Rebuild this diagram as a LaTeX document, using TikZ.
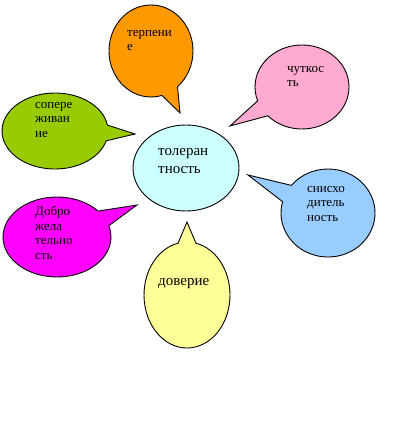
\documentclass[tikz,border=0pt]{standalone}
\usepackage{fontspec}
\setmainfont{Liberation Serif}
\usepackage{tikz}
\usetikzlibrary{shapes.geometric, shapes.callouts}
\definecolor{bblorange}{RGB}{255,153,0}
\definecolor{bblpink}{RGB}{255,170,208}
\definecolor{bblgreen}{RGB}{153,204,0}
\definecolor{bblcyan}{RGB}{204,255,255}
\definecolor{bblblue}{RGB}{153,204,255}
\definecolor{bblmagenta}{RGB}{255,0,255}
\definecolor{bblyellow}{RGB}{255,255,153}

\begin{document}
\begin{tikzpicture}[
  x=1pt, y=-1pt,
  bubble/.style={ellipse callout, draw=black, line width=0.9pt, inner sep=0pt,
                 callout pointer arc=24},
  core/.style={ellipse, draw=black, line width=0.9pt, inner sep=0pt},
  word/.style={font=\fontsize{13}{14.5}\selectfont, align=left, inner sep=0pt,
               anchor=north west},
  bigword/.style={font=\fontsize{15}{18}\selectfont, align=left, inner sep=0pt,
                  anchor=north west}
]
\useasboundingbox (0,0) rectangle (419,422);
\node[core, fill=bblcyan, minimum width=106pt, minimum height=86pt] (tol) at (186,168) {};
\node[bigword] (toltxt) at (158,148) {толеран\\тность};
\node[bubble, fill=bblorange, minimum width=84pt, minimum height=92pt,
      callout absolute pointer={(180,113)}] (terp) at (151,51) {};
\node[word] (terptxt) at (127,30) {терпени\\е};
\node[bubble, fill=bblpink, minimum width=94pt, minimum height=84pt,
      callout absolute pointer={(230,126)}] (chut) at (302,87) {};
\node[word] (chuttxt) at (287,66) {чуткос\\ть};
\node[bubble, fill=bblgreen, minimum width=106pt, minimum height=76pt,
      callout absolute pointer={(135,134)}] (sop) at (55,131) {};
\node[word] (soptxt) at (35,102) {сопере\\живан\\ие};
\node[bubble, fill=bblblue, minimum width=94pt, minimum height=88pt,
      callout absolute pointer={(248,175)}] (snis) at (328,213) {};
\node[word] (snistxt) at (307,186) {снисхо\\дитель\\ность};
\node[bubble, fill=bblmagenta, minimum width=108pt, minimum height=80pt,
      callout absolute pointer={(137,205)}] (dobr) at (57,237) {};
\node[word] (dobrtxt) at (35,206) {Добро\\жела\\тельно\\сть};
\node[bubble, fill=bblyellow, minimum width=86pt, minimum height=106pt,
      callout absolute pointer={(187,222)}] (dov) at (187,295) {};
\node[bigword, anchor=base west] (dovtxt) at (158,285) {доверие};
\end{tikzpicture}
\end{document}
